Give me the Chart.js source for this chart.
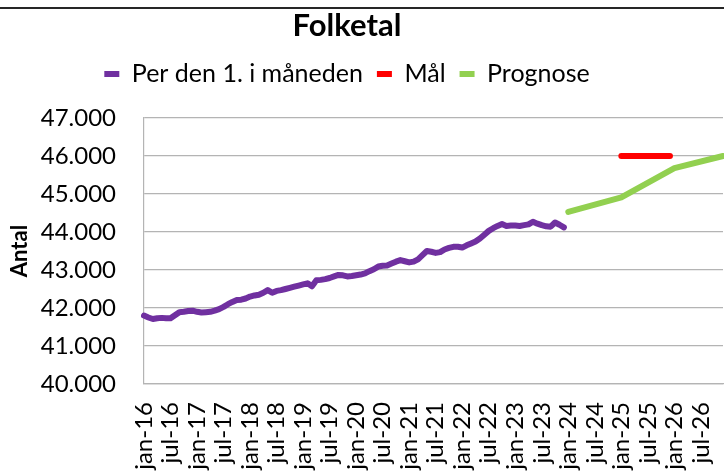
<!DOCTYPE html>
<html>
<head>
<meta charset="utf-8">
<script src="https://cdn.jsdelivr.net/npm/chart.js@4/dist/chart.umd.min.js"></script>
<style>
  html, body { margin: 0; padding: 0; background: #fff; }
  body { width: 724px; height: 475px; overflow: hidden; position: relative; }
  #topline { position: absolute; left: 0; top: 7px; width: 724px; height: 1.5px; background: #262626; }
  #wrap { position: absolute; left: -29px; top: 0; width: 756px; height: 475px; }
</style>
</head>
<body>
<div id="topline"></div>
<div id="wrap"><canvas id="c" width="756" height="475"></canvas></div>
<script>
// ---- categories (monthly, jan-16 .. dec-26) ----
const monthNames = ['jan','feb','mar','apr','maj','jun','jul','aug','sep','okt','nov','dec'];
const years = ['16','17','18','19','20','21','22','23','24','25','26'];
const labels = [];
years.forEach(y => monthNames.forEach(m => labels.push(m + '-' + y)));

// ---- "Per den 1. i måneden" (jan-16 .. dec-23), one array per year ----
const folketal2016 = [41800,41750,41710,41730,41740,41730,41730,41810,41890,41900,41920,41930];
const folketal2017 = [41900,41880,41890,41900,41930,41970,42030,42100,42160,42210,42220,42250];
const folketal2018 = [42300,42330,42350,42400,42470,42400,42450,42470,42500,42530,42560,42590];
const folketal2019 = [42620,42650,42570,42730,42740,42760,42790,42830,42870,42860,42830,42840];
const folketal2020 = [42860,42880,42910,42970,43020,43090,43110,43120,43170,43220,43260,43230];
const folketal2021 = [43200,43220,43280,43390,43500,43480,43450,43470,43540,43580,43610,43610];
const folketal2022 = [43590,43650,43700,43750,43830,43930,44030,44100,44160,44210,44160,44170];
const folketal2023 = [44170,44160,44180,44200,44270,44220,44180,44150,44140,44250,44190,44120];
const folketal = [].concat(folketal2016, folketal2017, folketal2018, folketal2019,
                           folketal2020, folketal2021, folketal2022, folketal2023);

// ---- "Mål" (target for 2025) ----
const maalMonths = ['jan-25','feb-25','mar-25','apr-25','maj-25','jun-25','jul-25','aug-25','sep-25','okt-25','nov-25','dec-25'];
const maalValues = [46000,46000,46000,46000,46000,46000,46000,46000,46000,46000,46000,46000];

// ---- "Prognose" (forecast points) ----
const prognoseMonths = ['jan-24','jan-25','jan-26','dec-26'];
const prognoseValues = [44530, 44910, 45680, 46000];

// ---- y tick range ----
const yMin = 40000, yMax = 47000, yStep = 1000;

function placeOn(monthList, values) {
  const arr = labels.map(() => null);
  monthList.forEach((m, i) => { arr[labels.indexOf(m)] = values[i]; });
  return arr;
}
const seriesFolketal = labels.map((_, i) => (i < folketal.length ? folketal[i] : null));
const seriesMaal = placeOn(maalMonths, maalValues);
const seriesPrognose = placeOn(prognoseMonths, prognoseValues);

function fmt(v) {
  return String(Math.round(v)).replace(/\B(?=(\d{3})+(?!\d))/g, '.');
}

// empty layout box that keeps a gap between the legend and the plot
const legendGap = {
  id: 'legendGap',
  start(chart) {
    const box = {
      position: 'top', weight: 0, fullSize: true, options: {},
      left: 0, top: 0, right: 0, bottom: 0, width: 0, height: 0,
      isHorizontal() { return true; },
      update(maxWidth) { this.width = maxWidth; this.height = 21.5; },
      draw() {}
    };
    Chart.layouts.addBox(chart, box);
  }
};

Chart.defaults.font.family = 'Lato';
Chart.defaults.color = '#000';

const lineCommon = {
  borderWidth: 6,
  pointRadius: 0,
  pointHoverRadius: 0,
  tension: 0,
  borderCapStyle: 'round',
  borderJoinStyle: 'round',
  fill: false
};

new Chart(document.getElementById('c'), {
  type: 'line',
  plugins: [legendGap],
  data: {
    labels: labels,
    datasets: [
      Object.assign({ label: 'Per den 1. i måneden', data: seriesFolketal,
        borderColor: '#7030A0', backgroundColor: '#7030A0' }, lineCommon),
      Object.assign({ label: 'Mål', data: seriesMaal,
        borderColor: '#FF0000', backgroundColor: '#FF0000' }, lineCommon),
      Object.assign({ label: 'Prognose', data: seriesPrognose, spanGaps: true,
        borderColor: '#92D050', backgroundColor: '#92D050' }, lineCommon)
    ]
  },
  options: {
    responsive: false,
    animation: false,
    layout: { padding: { left: 0, right: 4, top: 0, bottom: 0 } },
    plugins: {
      title: {
        display: true,
        text: 'Folketal',
        font: { family: 'Lato', size: 31, weight: 'bold' },
        color: '#000',
        padding: { top: 7.4, bottom: 2.9 }
      },
      legend: {
        display: true,
        position: 'top',
        labels: {
          usePointStyle: true,
          pointStyle: 'line',
          pointStyleWidth: 15,
          boxHeight: 6,
          padding: 14,
          color: '#000',
          font: { family: 'Lato', size: 25 }
        }
      },
      tooltip: { enabled: false }
    },
    scales: {
      x: {
        type: 'category',
        grid: { display: false, drawTicks: false },
        border: { display: true, color: '#b4b4b4', width: 1.2 },
        ticks: {
          autoSkip: false,
          maxRotation: 90,
          minRotation: 90,
          padding: 18,
          font: { family: 'Lato', size: 24 },
          color: '#000',
          callback: function (value, index) {
            return index % 6 === 0 ? labels[index] : '';
          }
        },
        afterFit: function (scale) {
          scale.height = 91;
          scale.paddingLeft = 0;
          scale.paddingRight = 0;
        }
      },
      y: {
        min: yMin,
        max: yMax,
        grid: { color: '#b4b4b4', lineWidth: 1.2, drawTicks: false },
        border: { display: true, color: '#b4b4b4', width: 1.2 },
        ticks: {
          stepSize: yStep,
          padding: 28,
          font: { family: 'Lato', size: 24 },
          color: '#000',
          callback: function (v) { return fmt(v); }
        },
        title: {
          display: true,
          text: 'Antal',
          font: { family: 'Lato', size: 22, weight: 'bold' },
          color: '#000',
          padding: { top: 36, bottom: 0 }
        },
        afterFit: function (scale) {
          scale.width = 173;
        }
      }
    }
  }
});
</script>
</body>
</html>
